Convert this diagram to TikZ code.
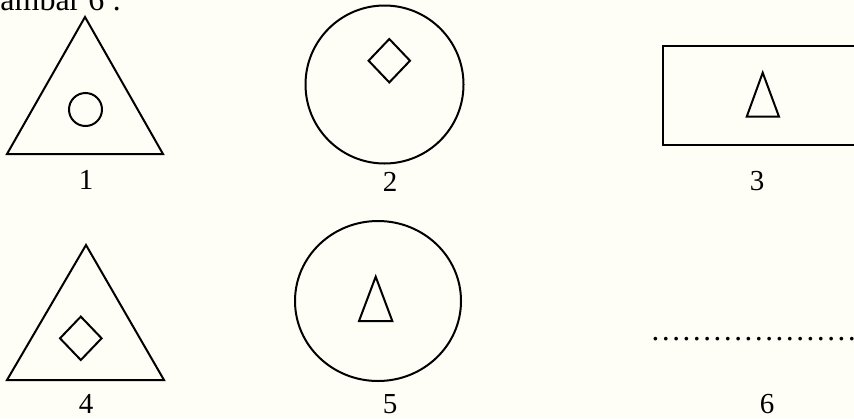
\documentclass[tikz,border=0pt]{standalone}
\usepackage{fontspec}
\setmainfont{Liberation Serif}
\usepackage{tikz}
\usetikzlibrary{positioning}
\definecolor{pgcream}{HTML}{FEFEF7}

\begin{document}
\begin{tikzpicture}[
  x=0.5pt, y=-0.5pt,
  figline/.style={draw=black, line width=1pt, line join=miter},
  numlabel/.style={font=\fontsize{14.5}{17}\selectfont, inner sep=0pt},
  headtext/.style={font=\fontsize{16}{19}\selectfont, inner sep=0pt, anchor=base west},
  blank/.style={font=\fontsize{15.5}{18}\selectfont, inner sep=0pt, anchor=base west},
]

% Page
\useasboundingbox (0,0) rectangle (854,418);
\clip (0,0) rectangle (854,418);
\fill[pgcream] (0,0) rectangle (854,418);

% Heading (cut at the top of the page)
\node[headtext] (head) at (0,10) {ambar 6 :};

% Figure 1: triangle with circle
\draw[figline] (85,17) -- (163,154) -- (7,154) -- cycle;
\draw[figline] (85.5,109.5) circle (16.5);
\node[numlabel] (n1) at (86,180) {1};

% Figure 2: circle with diamond
\draw[figline] (384.5,84.5) circle (79);
\draw[figline] (389.3,39) -- (410,60.7) -- (389.3,82.4) -- (368.6,60.7) -- cycle;
\node[numlabel] (n2) at (390,182) {2};

% Figure 3: rectangle with triangle
\draw[figline] (870,45.7) -- (663,45.7) -- (663,145) -- (870,145);
\draw[figline] (762.7,72.7) -- (779,116.7) -- (746.7,116.7) -- cycle;
\node[numlabel] (n3) at (757,181) {3};

% Figure 4: triangle with diamond
\draw[figline] (86,245) -- (164,380) -- (7,380) -- cycle;
\draw[figline] (80.8,316.6) -- (101.6,338.3) -- (80.8,360) -- (60,338.3) -- cycle;
\node[numlabel] (n4) at (86,404) {4};

% Figure 5: circle with triangle
\draw[figline] (378,301) ellipse (83 and 80);
\draw[figline] (375.7,276.7) -- (392.3,321) -- (359,321) -- cycle;
\node[numlabel] (n5) at (390,404) {5};

% Figure 6: to be filled in
\node[blank] (dots) at (650,340) {……………………};
\node[numlabel] (n6) at (767,404) {6};

\end{tikzpicture}
\end{document}
